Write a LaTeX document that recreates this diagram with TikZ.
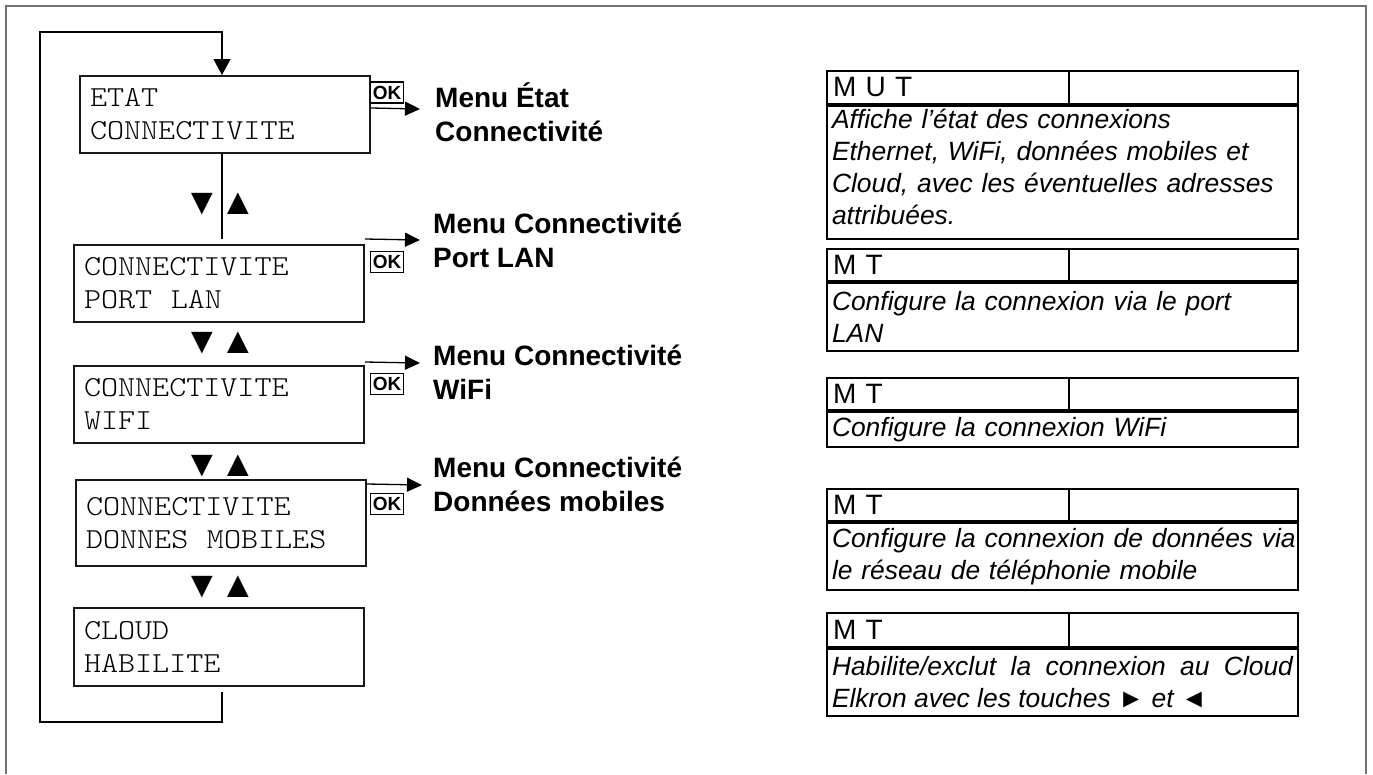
\documentclass[tikz,border=0pt]{standalone}
\usepackage{fontspec}
\setmainfont{Liberation Sans}
\newfontfamily\screenfont[FakeStretch=1.12]{lmmonolt10-regular.otf}
\newcommand\wsp{\ \kern9pt\relax}
\usetikzlibrary{arrows.meta}
\begin{document}
\begin{tikzpicture}[x=1pt,y=-1pt,
  screen/.style={draw=black!90, line width=2pt, inner xsep=10pt, inner ysep=0pt, text width=270pt, align=left, font=\fontsize{29}{33}\selectfont\screenfont},
  okbox/.style={draw, line width=1.3pt, inner sep=0pt, minimum width=33pt, minimum height=21pt, font=\fontsize{19}{19}\selectfont\bfseries},
  okarrow/.style={line width=1.3pt, -{Triangle[length=15pt,width=14pt]}},
  link/.style={line width=1.3pt},
  tri/.style={font=\fontsize{37}{37}\selectfont, inner sep=0pt},
  menulabel/.style={font=\fontsize{28}{34}\selectfont\bfseries, align=left, inner sep=0pt, anchor=base west},
  hdr/.style={draw, line width=2pt, minimum width=471pt, text width=459pt, inner xsep=6pt, inner ysep=0pt, align=left, font=\fontsize{28}{32}\selectfont},
  body/.style={draw, line width=2pt, minimum width=471pt, text width=461pt, inner xsep=5pt, inner ysep=0pt, align=left, font=\fontsize{26.4}{32}\selectfont\itshape},
  divider/.style={line width=2pt}
]
\useasboundingbox (0,0) rectangle (1373,774);
\draw[black!55, line width=1.5pt] (6,774) -- (6,6) -- (1366,6) -- (1366,774);

% screens
\node[screen, minimum height=77pt] (s1) at (225,114.5) {ETAT\\CONNECTIVITE};
\node[screen, minimum height=77pt] (s2) at (219,283.5) {CONNECTIVITE\\PORT\wsp LAN};
\node[screen, minimum height=77pt] (s3) at (219,404.5) {CONNECTIVITE\\WIFI};
\node[screen, minimum height=86pt] (s4) at (221,523) {CONNECTIVITE\\DONNES\wsp MOBILES};
\node[screen, minimum height=78pt] (s5) at (219,647) {CLOUD\\HABILITE};

% up/down keys
\node[tri] (dn1) at (202,204) {▼}; \node[tri] (up1) at (238,204) {▲};
\node[tri] (dn2) at (202,343) {▼}; \node[tri] (up2) at (238,343) {▲};
\node[tri] (dn3) at (202,466) {▼}; \node[tri] (up3) at (238,466) {▲};
\node[tri] (dn4) at (202,587) {▼}; \node[tri] (up4) at (238,587) {▲};

\draw[link] ([xshift=-3pt]s1.south) -- ([xshift=3pt,yshift=5pt]s2.north);

% loop
\coordinate (lp0) at ([xshift=3pt,yshift=-5pt]s5.south);
\coordinate (lp1) at (40,722);
\coordinate (lp2) at (40,32);
\draw[link, -{Triangle[length=16pt,width=17pt]}] (lp0) |- (lp1) -- (lp2) -| ([xshift=-3pt]s1.north);

% OK boxes
\node[okbox] (ok1) at (387,92.5) {OK};
\node[okbox] (ok2) at (387,262) {OK};
\node[okbox] (ok3) at (387,384) {OK};
\node[okbox] (ok4) at (387,504) {OK};

% labels (base = baseline of the last line)
\node[menulabel] (l1) at (435,141) {Menu État\\Connectivité};
\node[menulabel] (l2) at (433,267) {Menu Connectivité\\Port LAN};
\node[menulabel] (l3) at (433,399) {Menu Connectivité\\WiFi};
\node[menulabel] (l4) at (433,511) {Menu Connectivité\\Données mobiles};

% OK arrows
\coordinate (e1) at (420,109);
\coordinate (e2) at (420,240);
\coordinate (e3) at (420,363);
\coordinate (e4) at (422,485);
\draw[okarrow] ([yshift=-33pt]s1.north east) -- (e1);
\draw[okarrow] ([yshift=5pt]s2.north east) -- (e2);
\draw[okarrow] ([yshift=3pt]s3.north east) -- (e3);
\draw[okarrow] ([yshift=-5pt]s4.north east) -- (e4);

% tables
\node[hdr, minimum height=33pt, anchor=north west] (h1) at (826,70) {M U T};
\node[body, minimum height=133pt, text depth=108pt, anchor=north] (b1) at (h1.south) {\mbox{Affiche l'état des connexions}\\\mbox{Ethernet, WiFi, données mobiles et}\\\mbox{Cloud, avec les éventuelles adresses}\\\mbox{attribuées.}};
\draw[divider] ([xshift=243pt]h1.north west) -- ([xshift=243pt]h1.south west);

\node[hdr, minimum height=32pt, anchor=north west] (h2) at (826,248) {M T};
\node[body, minimum height=68pt, anchor=north] (b2) at (h2.south) {\mbox{Configure la connexion via le port}\\LAN};
\draw[divider] ([xshift=243pt]h2.north west) -- ([xshift=243pt]h2.south west);

\node[hdr, minimum height=32pt, anchor=north west] (h3) at (826,377) {M T};
\node[body, minimum height=35pt, anchor=north] (b3) at (h3.south) {\mbox{Configure la connexion WiFi}};
\draw[divider] ([xshift=243pt]h3.north west) -- ([xshift=243pt]h3.south west);

\node[hdr, minimum height=32pt, anchor=north west] (h4) at (826,488) {M T};
\node[body, minimum height=67pt, anchor=north] (b4) at (h4.south) {\mbox{Configure la connexion de données via}\\\mbox{le réseau de téléphonie mobile}};
\draw[divider] ([xshift=243pt]h4.north west) -- ([xshift=243pt]h4.south west);

\node[hdr, minimum height=34pt, anchor=north west] (h5) at (826,612) {M T};
\node[body, minimum height=67pt, anchor=north, align=justify] (b5) at (h5.south) {\hyphenpenalty=10000 Habilite/exclut la connexion au Cloud\linebreak Elkron avec les touches {\upshape ►} et {\upshape ◄}};
\draw[divider] ([xshift=243pt]h5.north west) -- ([xshift=243pt]h5.south west);
\end{tikzpicture}
\end{document}
